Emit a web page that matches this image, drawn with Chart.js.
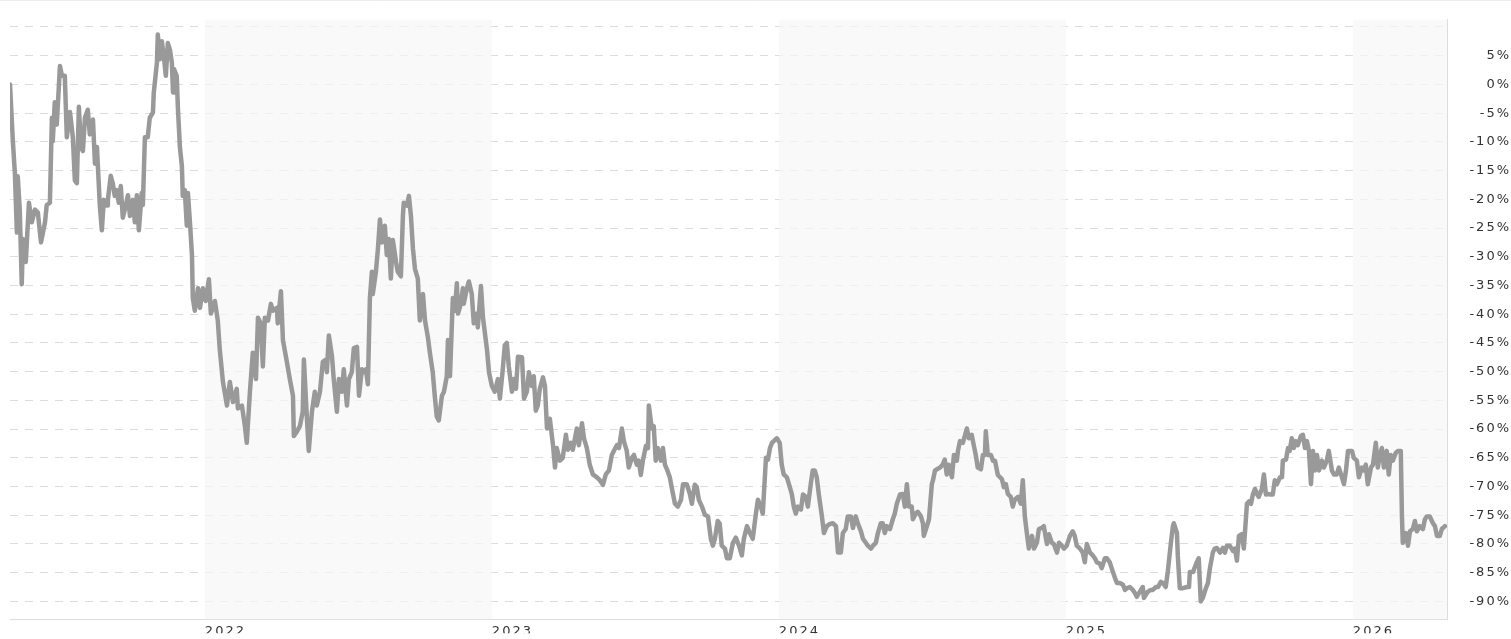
<!DOCTYPE html>
<html>
<head>
<meta charset="utf-8">
<script src="https://cdn.jsdelivr.net/npm/chart.js@4.4.1/dist/chart.umd.min.js"></script>
<style>
  html, body { margin: 0; padding: 0; background: #fff; }
  #wrap { width: 1511px; height: 639px; }
</style>
</head>
<body>
<div id="wrap"><canvas id="canvas"></canvas></div>
<script>
// dates as decimal years, change in %
var dates = [
  2021.321,2021.331,2021.338,2021.345,2021.348,2021.355,2021.362,2021.366,2021.376,2021.387,
  2021.397,2021.408,2021.418,2021.429,2021.443,2021.449,2021.460,2021.467,2021.470,2021.477,
  2021.484,2021.495,2021.502,2021.512,2021.519,2021.530,2021.540,2021.547,2021.554,2021.561,
  2021.568,2021.575,2021.582,2021.592,2021.599,2021.610,2021.617,2021.624,2021.634,2021.641,
  2021.648,2021.659,2021.662,2021.672,2021.679,2021.686,2021.693,2021.700,2021.707,2021.714,
  2021.721,2021.732,2021.739,2021.749,2021.756,2021.763,2021.770,2021.780,2021.784,2021.791,
  2021.801,2021.808,2021.819,2021.822,2021.833,2021.836,2021.843,2021.850,2021.857,2021.864,
  2021.871,2021.878,2021.885,2021.889,2021.892,2021.902,2021.906,2021.913,2021.920,2021.923,
  2021.930,2021.937,2021.941,2021.948,2021.955,2021.958,2021.965,2021.976,2021.983,2021.993,
  2022.003,2022.014,2022.021,2022.035,2022.045,2022.052,2022.063,2022.077,2022.087,2022.098,
  2022.111,2022.115,2022.129,2022.139,2022.146,2022.157,2022.167,2022.178,2022.185,2022.195,
  2022.202,2022.209,2022.220,2022.230,2022.237,2022.251,2022.254,2022.265,2022.272,2022.286,
  2022.296,2022.307,2022.310,2022.321,2022.331,2022.341,2022.345,2022.355,2022.362,2022.373,
  2022.383,2022.390,2022.401,2022.411,2022.422,2022.425,2022.432,2022.443,2022.449,2022.460,
  2022.467,2022.477,2022.484,2022.495,2022.502,2022.512,2022.519,2022.530,2022.537,2022.547,
  2022.554,2022.561,2022.568,2022.575,2022.582,2022.585,2022.596,2022.603,2022.610,2022.617,
  2022.627,2022.634,2022.641,2022.648,2022.655,2022.666,2022.672,2022.683,2022.690,2022.693,
  2022.704,2022.711,2022.718,2022.725,2022.732,2022.742,2022.749,2022.760,2022.767,2022.777,
  2022.784,2022.794,2022.801,2022.808,2022.815,2022.826,2022.833,2022.843,2022.847,2022.854,
  2022.864,2022.871,2022.878,2022.882,2022.892,2022.899,2022.902,2022.913,2022.920,2022.930,
  2022.937,2022.948,2022.951,2022.962,2022.969,2022.983,2022.990,2023.000,2023.010,2023.021,
  2023.028,2023.038,2023.045,2023.052,2023.059,2023.070,2023.077,2023.084,2023.091,2023.105,
  2023.112,2023.122,2023.129,2023.139,2023.146,2023.153,2023.160,2023.167,2023.178,2023.185,
  2023.192,2023.202,2023.213,2023.220,2023.226,2023.237,2023.247,2023.258,2023.265,2023.275,
  2023.282,2023.296,2023.303,2023.314,2023.321,2023.331,2023.341,2023.352,2023.366,2023.376,
  2023.387,2023.397,2023.408,2023.418,2023.425,2023.436,2023.443,2023.453,2023.460,2023.470,
  2023.477,2023.488,2023.495,2023.505,2023.512,2023.519,2023.526,2023.537,2023.544,2023.547,
  2023.557,2023.564,2023.571,2023.578,2023.589,2023.596,2023.603,2023.610,2023.620,2023.631,
  2023.638,2023.648,2023.659,2023.666,2023.679,2023.690,2023.697,2023.707,2023.714,2023.721,
  2023.732,2023.742,2023.753,2023.763,2023.770,2023.777,2023.787,2023.794,2023.801,2023.812,
  2023.819,2023.829,2023.840,2023.850,2023.861,2023.871,2023.878,2023.889,2023.899,2023.909,
  2023.920,2023.927,2023.937,2023.944,2023.955,2023.962,2023.969,2023.976,2023.986,2023.993,
  2024.003,2024.010,2024.017,2024.028,2024.035,2024.045,2024.052,2024.059,2024.066,2024.077,
  2024.084,2024.094,2024.101,2024.111,2024.118,2024.125,2024.132,2024.139,2024.150,2024.157,
  2024.167,2024.178,2024.188,2024.199,2024.206,2024.216,2024.223,2024.233,2024.240,2024.251,
  2024.258,2024.268,2024.275,2024.286,2024.293,2024.303,2024.310,2024.321,2024.328,2024.338,
  2024.345,2024.355,2024.362,2024.369,2024.376,2024.387,2024.397,2024.404,2024.411,2024.422,
  2024.432,2024.439,2024.446,2024.453,2024.463,2024.467,2024.477,2024.484,2024.495,2024.502,
  2024.505,2024.516,2024.523,2024.533,2024.537,2024.544,2024.551,2024.561,2024.571,2024.578,
  2024.585,2024.592,2024.603,2024.610,2024.620,2024.624,2024.631,2024.641,2024.648,2024.655,
  2024.662,2024.672,2024.679,2024.686,2024.693,2024.704,2024.711,2024.718,2024.721,2024.728,
  2024.739,2024.746,2024.753,2024.763,2024.777,2024.784,2024.791,2024.798,2024.808,2024.815,
  2024.822,2024.833,2024.843,2024.850,2024.857,2024.864,2024.871,2024.882,2024.889,2024.899,
  2024.906,2024.916,2024.923,2024.934,2024.941,2024.951,2024.958,2024.969,2024.976,2024.986,
  2024.993,2025.003,2025.014,2025.024,2025.031,2025.038,2025.049,2025.059,2025.066,2025.073,
  2025.084,2025.094,2025.101,2025.108,2025.118,2025.125,2025.136,2025.143,2025.153,2025.164,
  2025.171,2025.178,2025.188,2025.199,2025.206,2025.213,2025.223,2025.233,2025.240,2025.247,
  2025.258,2025.268,2025.272,2025.279,2025.286,2025.296,2025.303,2025.314,2025.321,2025.331,
  2025.338,2025.348,2025.355,2025.366,2025.373,2025.376,2025.387,2025.390,2025.397,2025.408,
  2025.422,2025.429,2025.432,2025.443,2025.449,2025.456,2025.463,2025.470,2025.477,2025.488,
  2025.495,2025.502,2025.512,2025.519,2025.526,2025.537,2025.547,2025.554,2025.561,2025.571,
  2025.582,2025.589,2025.596,2025.603,2025.613,2025.620,2025.631,2025.638,2025.645,2025.652,
  2025.659,2025.666,2025.672,2025.683,2025.690,2025.697,2025.704,2025.714,2025.721,2025.728,
  2025.735,2025.746,2025.753,2025.756,2025.767,2025.774,2025.780,2025.787,2025.794,2025.801,
  2025.808,2025.819,2025.826,2025.833,2025.840,2025.847,2025.854,2025.861,2025.868,2025.875,
  2025.882,2025.892,2025.899,2025.909,2025.916,2025.927,2025.934,2025.944,2025.951,2025.962,
  2025.969,2025.976,2025.983,2025.997,2026.003,2026.014,2026.021,2026.031,2026.038,2026.045,
  2026.052,2026.063,2026.070,2026.080,2026.087,2026.094,2026.101,2026.108,2026.118,2026.125,
  2026.132,2026.139,2026.150,2026.157,2026.167,2026.171,2026.174,2026.185,2026.192,2026.199,
  2026.209,2026.216,2026.223,2026.233,2026.244,2026.251,2026.258,2026.268,2026.279,2026.286,
  2026.293,2026.303,2026.310,2026.321
]
var changes = [
  0,-9.9,-15.5,-25.8,-16.0,-21.8,-34.8,-26.9,-30.9,-20.6,
  -24.0,-21.8,-22.3,-27.5,-24.0,-21.0,-20.6,-5.8,-9.9,-3.1,
  -7.0,3.2,1.5,1.5,-9.2,-4.8,-9.2,-16.7,-17.2,-3.9,
  -10.9,-11.6,-5.8,-4.4,-8.7,-6.1,-13.8,-10.9,-21.1,-25.4,
  -20.1,-21.1,-20.1,-15.9,-17.2,-19.4,-18.4,-20.6,-17.7,-23.2,
  -21.8,-19.3,-22.9,-20.1,-24.0,-19.3,-25.4,-18.9,-21.0,-9.2,
  -9.2,-5.8,-4.9,-1.4,3.8,8.7,4.4,7.5,4.9,1.5,
  7.2,6.1,3.8,-1.4,2.7,1.5,-4.1,-10.9,-14.3,-19.4,
  -18.4,-24.6,-18.9,-24.0,-29.7,-37.2,-39.4,-35.5,-38.9,-35.5,
  -37.7,-33.9,-39.9,-37.7,-41.1,-46.2,-51.8,-55.9,-51.8,-55.3,
  -53.0,-56.4,-55.9,-59.3,-62.4,-53.5,-46.7,-51.3,-40.6,-41.6,
  -49.1,-40.6,-41.1,-38.2,-39.4,-38.9,-41.6,-36.0,-44.5,-48.4,
  -51.3,-54.2,-61.2,-60.4,-59.5,-57.0,-47.9,-57.6,-63.8,-57.0,
  -53.5,-55.9,-53.5,-48.3,-47.9,-50.1,-43.7,-47.4,-51.3,-57.0,
  -51.3,-53.5,-49.6,-55.9,-51.3,-50.1,-45.9,-45.7,-54.2,-49.6,
  -50.1,-49.6,-52.2,-37.2,-32.6,-36.5,-32.6,-28.6,-23.5,-27.5,
  -24.6,-29.7,-26.9,-33.8,-27.1,-30.9,-32.6,-33.4,-22.9,-20.6,
  -21.1,-19.4,-22.9,-28.6,-32.1,-33.8,-41.1,-36.5,-41.1,-44.0,
  -46.7,-50.1,-54.2,-57.8,-58.5,-54.2,-53.5,-50.8,-44.5,-50.8,
  -37.2,-39.4,-34.6,-39.9,-38.2,-35.5,-38.2,-35.5,-34.3,-36.5,
  -41.6,-39.9,-42.3,-35.1,-40.6,-46.2,-50.1,-52.5,-53.5,-51.3,
  -54.7,-49.6,-45.4,-45.0,-49.1,-53.5,-51.3,-53.0,-47.4,-47.5,
  -54.7,-53.5,-50.1,-52.5,-50.8,-56.8,-55.9,-53.0,-51.0,-52.5,
  -59.9,-58.2,-62.8,-66.7,-63.3,-65.5,-65.0,-61.0,-63.6,-62.4,
  -63.6,-59.9,-62.8,-59.0,-61.6,-63.3,-66.2,-67.9,-68.4,-68.9,
  -69.7,-67.9,-67.2,-64.5,-63.8,-62.8,-63.3,-59.9,-62.1,-63.8,
  -66.7,-65.0,-64.5,-66.2,-65.5,-68.0,-65.5,-62.9,-63.3,-55.9,
  -59.9,-59.5,-65.5,-63.3,-65.5,-63.3,-66.2,-67.0,-68.4,-71.3,
  -73.0,-73.5,-72.3,-69.6,-69.6,-71.3,-73.0,-69.7,-70.1,-72.3,
  -73.5,-74.9,-75.2,-79.1,-80.3,-79.1,-76.0,-76.5,-80.3,-80.8,
  -82.5,-82.5,-79.8,-78.9,-80.3,-82.0,-79.1,-76.9,-78.1,-79.1,
  -74.7,-72.3,-73.5,-74.7,-65.0,-65.3,-63.3,-62.4,-61.9,-61.6,
  -62.4,-66.2,-67.9,-68.4,-69.6,-71.3,-73.5,-74.7,-73.5,-74.0,
  -71.4,-71.8,-73.5,-69.6,-67.2,-67.2,-68.4,-71.3,-75.2,-78.1,
  -76.9,-76.5,-76.4,-76.9,-81.5,-81.5,-78.1,-77.4,-75.2,-75.2,
  -77.2,-75.2,-76.4,-77.8,-79.1,-79.8,-80.3,-80.8,-80.3,-79.8,
  -78.1,-76.4,-76.4,-78.1,-76.9,-77.4,-75.7,-74.7,-73.0,-71.4,
  -71.3,-73.5,-69.6,-73.5,-73.5,-75.7,-74.7,-74.4,-75.2,-76.4,
  -78.6,-76.9,-75.7,-69.6,-68.9,-67.2,-67.0,-66.7,-66.2,-65.3,
  -67.9,-66.2,-68.4,-64.5,-65.5,-63.8,-62.1,-62.4,-61.2,-59.9,
  -61.6,-61.0,-62.8,-64.5,-66.7,-67.0,-64.5,-64.5,-60.4,-64.5,
  -64.5,-65.5,-65.5,-68.0,-68.7,-70.1,-69.6,-71.3,-71.8,-73.5,
  -72.3,-71.8,-73.0,-68.9,-75.2,-78.1,-80.8,-78.6,-80.8,-79.8,
  -77.4,-77.2,-76.9,-80.0,-78.3,-79.8,-80.0,-81.5,-79.8,-80.3,
  -80.8,-80.3,-78.6,-77.8,-78.6,-80.3,-80.8,-81.5,-83.2,-80.0,
  -81.5,-82.0,-82.5,-83.2,-83.4,-84.2,-82.5,-82.5,-83.2,-84.9,
  -85.9,-86.8,-86.8,-87.1,-88.0,-87.7,-87.5,-88.0,-88.5,-89.2,
  -88.3,-87.5,-89.4,-88.8,-88.3,-88.0,-88.0,-87.5,-87.5,-86.6,
  -86.8,-87.5,-84.9,-79.8,-76.9,-76.4,-78.1,-82.0,-87.7,-87.7,
  -87.5,-87.5,-84.9,-84.9,-84.1,-83.2,-82.5,-90.0,-89.4,-87.7,
  -86.8,-84.2,-81.5,-80.8,-80.7,-81.5,-80.7,-81.5,-80.3,-80.3,
  -81.2,-80.8,-82.9,-78.6,-78.3,-80.8,-73.0,-72.6,-73.0,-71.3,
  -70.4,-71.3,-71.8,-70.4,-67.9,-71.4,-71.3,-71.4,-71.4,-68.9,
  -69.6,-68.4,-68.4,-65.5,-65.3,-63.3,-63.8,-61.6,-63.3,-62.1,
  -62.8,-61.2,-61.0,-63.3,-62.1,-63.8,-69.6,-63.8,-67.2,-64.5,
  -67.2,-65.5,-66.7,-65.5,-63.8,-67.2,-67.9,-67.9,-66.7,-68.4,
  -69.6,-67.2,-63.8,-63.8,-65.0,-65.5,-68.4,-66.7,-67.2,-66.2,
  -69.6,-66.7,-66.2,-62.4,-66.7,-64.5,-63.3,-66.7,-63.8,-67.9,
  -64.5,-65.5,-64.1,-63.8,-63.8,-75.2,-79.8,-78.1,-80.3,-77.8,
  -77.4,-76.0,-77.8,-76.9,-77.4,-75.7,-75.2,-75.2,-76.4,-76.9,
  -78.6,-78.6,-77.4,-76.9
]

var xTickYears = [2022, 2023, 2024, 2025, 2026]
var shadedYears = [2022, 2024, 2026]
var yTicks = [10, 5, 0, -5, -10, -15, -20, -25, -30, -35, -40, -45, -50, -55, -60, -65, -70, -75, -80, -85, -90]
var yTickLabels = ['', '5%', '0%', '-5%', '-10%', '-15%', '-20%', '-25%', '-30%', '-35%', '-40%', '-45%', '-50%', '-55%', '-60%', '-65%', '-70%', '-75%', '-80%', '-85%', '-90%']
var xMin = 2021.321, xMax = 2026.328
var yMin = -93.1, yMax = 11.25

var points = dates.map(function(t, i){ return {x: t, y: changes[i]} })

// spaced out tick lettering like the original
var spacing = {
    id: 'spacing',
    beforeUpdate: function(chart){ chart.ctx.letterSpacing = '2px' },
    beforeDraw: function(chart){ chart.ctx.letterSpacing = '2px' }
}

// light year bands + thin top rule
var bands = {
    id: 'bands',
    beforeDatasetsDraw: function(chart){
        var ctx = chart.ctx, a = chart.chartArea, xs = chart.scales.x
        ctx.save()
        ctx.fillStyle = 'rgba(246,246,246,0.7)'
        shadedYears.forEach(function(y){
            var x1 = Math.max(xs.getPixelForValue(y), a.left)
            var x2 = Math.min(xs.getPixelForValue(y + 1), a.right)
            if (x2 > x1) ctx.fillRect(x1, a.top, x2 - x1, a.bottom - a.top)
        })
        ctx.restore()
    },
    afterDraw: function(chart){
        var ctx = chart.ctx
        ctx.save()
        ctx.strokeStyle = '#ececec'
        ctx.lineWidth = 1
        ctx.beginPath()
        ctx.moveTo(0, 0.5)
        ctx.lineTo(chart.width, 0.5)
        ctx.stroke()
        ctx.restore()
    }
}

var chart = new Chart(document.getElementById('canvas'), {
    type: 'line',
    data: {
        datasets: [{
            data: points,
            borderColor: '#999999',
            borderWidth: 4.5,
            borderJoinStyle: 'round',
            borderCapStyle: 'round',
            pointRadius: 0,
            tension: 0,
            fill: false
        }]
    },
    options: {
        responsive: true,
        maintainAspectRatio: false,
        animation: false,
        events: [],
        layout: { padding: { left: 10, top: 13, right: 0, bottom: 0 } },
        plugins: {
            legend: { display: false },
            tooltip: { enabled: false }
        },
        scales: {
            x: {
                type: 'linear',
                min: xMin,
                max: xMax,
                afterBuildTicks: function(scale){
                    scale.ticks = xTickYears.map(function(v){ return {value: v} })
                },
                afterFit: function(scale){ scale.height = 14 },
                grid: { display: false, drawTicks: false },
                border: { display: true, color: '#dddddd', width: 1 },
                ticks: {
                    align: 'start',
                    maxRotation: 0,
                    padding: 5,
                    color: '#333333',
                    font: { family: 'DejaVu Sans', size: 13 },
                    callback: function(v){ return String(v) }
                }
            },
            y: {
                type: 'linear',
                position: 'right',
                min: yMin,
                max: yMax,
                afterBuildTicks: function(scale){
                    scale.ticks = yTicks.map(function(v){ return {value: v} })
                },
                afterFit: function(scale){ scale.width = 64 },
                grid: { color: '#dcdcdc', lineWidth: 1, drawTicks: false },
                border: { display: true, color: '#dddddd', width: 1, dash: [8, 7] },
                ticks: {
                    crossAlign: 'far',
                    padding: 12,
                    color: '#333333',
                    font: { family: 'DejaVu Sans', size: 13 },
                    callback: function(v, i){ return yTickLabels[i] }
                }
            }
        }
    },
    plugins: [spacing, bands]
})
</script>
</body>
</html>
